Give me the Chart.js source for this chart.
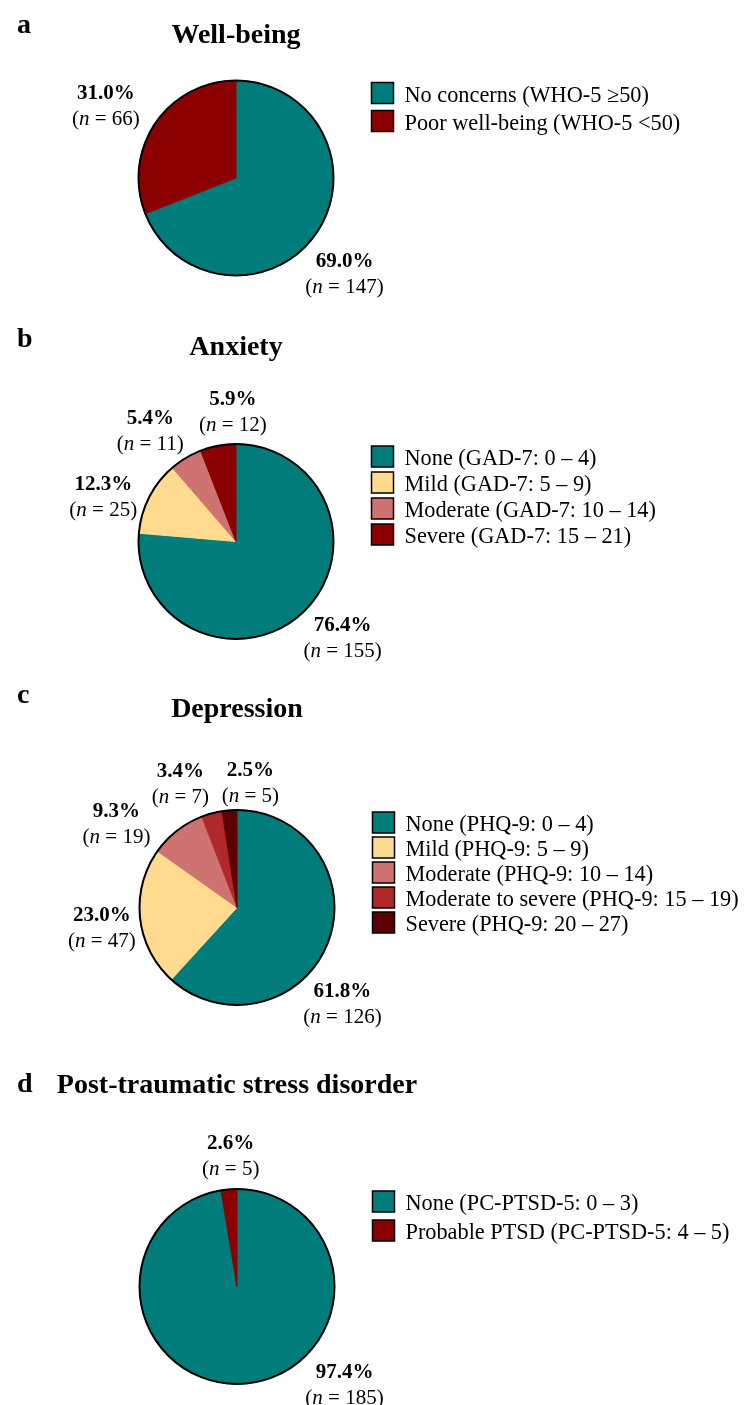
<!DOCTYPE html>
<html lang="en">
<head>
  <meta charset="UTF-8">
  <title>Well-being, anxiety, depression and PTSD screening</title>
  <script src="https://cdn.jsdelivr.net/npm/chart.js"></script>
  <style>
    body { margin: 0; background: #fff; }
    .page { position: relative; width: 745px; height: 1405px; }
    .panel { position: absolute; left: 0; width: 745px; }
  </style>
</head>
<body>
  <div class="page">
    <div class="panel" style="top:0;height:320px"><canvas id="chartA"></canvas></div>
    <div class="panel" style="top:320px;height:360px"><canvas id="chartB"></canvas></div>
    <div class="panel" style="top:680px;height:370px"><canvas id="chartC"></canvas></div>
    <div class="panel" style="top:1050px;height:355px"><canvas id="chartD"></canvas></div>
  </div>

  <script>
    // a - Well-being (WHO-5)
    const wellbeingLabels = ['No concerns (WHO-5 \u226550)', 'Poor well-being (WHO-5 <50)'];
    const wellbeingCounts = [147, 66];
    const wellbeingPercents = ['69.0', '31.0'];

    // b - Anxiety (GAD-7)
    const anxietyLabels = ['None (GAD-7: 0 \u2013 4)', 'Mild (GAD-7: 5 \u2013 9)', 'Moderate (GAD-7: 10 \u2013 14)', 'Severe (GAD-7: 15 \u2013 21)'];
    const anxietyCounts = [155, 25, 11, 12];
    const anxietyPercents = ['76.4', '12.3', '5.4', '5.9'];

    // c - Depression (PHQ-9)
    const depressionLabels = ['None (PHQ-9: 0 \u2013 4)', 'Mild (PHQ-9: 5 \u2013 9)', 'Moderate (PHQ-9: 10 \u2013 14)', 'Moderate to severe (PHQ-9: 15 \u2013 19)', 'Severe (PHQ-9: 20 \u2013 27)'];
    const depressionCounts = [126, 47, 19, 7, 5];
    const depressionPercents = ['61.8', '23.0', '9.3', '3.4', '2.5'];

    // d - PTSD (PC-PTSD-5)
    const ptsdLabels = ['None (PC-PTSD-5: 0 \u2013 3)', 'Probable PTSD (PC-PTSD-5: 4 \u2013 5)'];
    const ptsdCounts = [185, 5];
    const ptsdPercents = ['97.4', '2.6'];

    const TEAL = '#007d7a';
    const DARK_RED = '#8b0000';
    const YELLOW = '#ffda8f';
    const PINK = '#cf7272';
    const BRICK = '#b0282a';
    const MAROON = '#5c0000';

    const SERIF = '"Liberation Serif", "Times New Roman", serif';
    const R = 98;   // pie radius in px

    const panels = [
      { id: 'chartA', letter: 'a', title: 'Well-being', labels: wellbeingLabels, counts: wellbeingCounts,
        percents: wellbeingPercents, colors: [TEAL, DARK_RED],
        height: 320, cx: 236, cy: 178, letterY: 33, titleY: 43, legendStep: 28,
        labelNudge: [7, -5], labelDist: [1.48, 1.53] },
      { id: 'chartB', letter: 'b', title: 'Anxiety', labels: anxietyLabels, counts: anxietyCounts,
        percents: anxietyPercents, colors: [TEAL, YELLOW, PINK, DARK_RED],
        height: 360, cx: 236, cy: 221.5, letterY: 27, titleY: 35, legendStep: 26,
        labelNudge: [-5.5, -8, -6.6, 9.3], labelDist: [1.47, 1.44, 1.44, 1.34] },
      { id: 'chartC', letter: 'c', title: 'Depression', labels: depressionLabels, counts: depressionCounts,
        percents: depressionPercents, colors: [TEAL, YELLOW, PINK, BRICK, MAROON],
        height: 370, cx: 237, cy: 227.5, letterY: 23, titleY: 37, legendStep: 25,
        labelNudge: [21, -2, -17, -9.5, 10.5], labelDist: [1.46, 1.40, 1.51, 1.40, 1.29] },
      { id: 'chartD', letter: 'd', title: 'Post-traumatic stress disorder', labels: ptsdLabels, counts: ptsdCounts,
        percents: ptsdPercents, colors: [TEAL, DARK_RED],
        height: 355, cx: 237, cy: 236.5, letterY: 42, titleY: 43, legendStep: 29,
        labelNudge: [-43, 2], labelDist: [1.49, 1.35] }
    ];

    // outline, titles, outside labels and legend
    const panelDecor = {
      id: 'panelDecor',
      afterDatasetsDraw(chart, args, opts) {
        const ctx = chart.ctx;
        const meta = chart.getDatasetMeta(0);
        const { x, y, outerRadius } = meta.data[0].getProps(['x', 'y', 'outerRadius'], true);

        ctx.save();
        ctx.beginPath();
        ctx.arc(x, y, outerRadius, 0, Math.PI * 2);
        ctx.lineWidth = 2;
        ctx.strokeStyle = '#000';
        ctx.stroke();

        ctx.fillStyle = '#000';
        ctx.textBaseline = 'alphabetic';
        ctx.textAlign = 'left';
        ctx.font = 'bold 28px ' + SERIF;
        ctx.fillText(opts.letter, 17, opts.letterY);
        ctx.textAlign = 'center';
        ctx.font = 'bold 28px ' + SERIF;
        ctx.fillText(opts.title, x, opts.titleY);

        // slice labels
        meta.data.forEach((arc, i) => {
          const { startAngle, endAngle } = arc.getProps(['startAngle', 'endAngle'], true);
          const ang = (startAngle + endAngle) / 2 + opts.labelNudge[i] * Math.PI / 180;
          const d = outerRadius * opts.labelDist[i];
          const lx = x + Math.cos(ang) * d;
          const ly = y + Math.sin(ang) * d;

          ctx.textAlign = 'center';
          ctx.font = 'bold 21px ' + SERIF;
          ctx.fillText(opts.percents[i] + '%', lx, ly - 6);

          const parts = [
            { t: '(', f: '21px ' + SERIF },
            { t: 'n', f: 'italic 21px ' + SERIF },
            { t: ' = ' + opts.counts[i] + ')', f: '21px ' + SERIF }
          ];
          let total = 0;
          parts.forEach(p => { ctx.font = p.f; p.w = ctx.measureText(p.t).width; total += p.w; });
          let px = lx - total / 2;
          ctx.textAlign = 'left';
          parts.forEach(p => { ctx.font = p.f; ctx.fillText(p.t, px, ly + 20); px += p.w; });
        });

        // legend
        const bx = x + outerRadius + 38;
        const top = y - outerRadius + 2;
        const colors = chart.data.datasets[0].backgroundColor;
        chart.data.labels.forEach((lab, i) => {
          const by = top + i * opts.legendStep;
          ctx.fillStyle = colors[i];
          ctx.fillRect(bx, by, 22, 21);
          ctx.lineWidth = 1.5;
          ctx.strokeStyle = '#000';
          ctx.strokeRect(bx, by, 22, 21);
          ctx.fillStyle = '#000';
          ctx.textAlign = 'left';
          ctx.font = '22.3px ' + SERIF;
          ctx.fillText(lab, bx + 33, by + 19);
        });
        ctx.restore();
      }
    };

    function buildPanel(p) {
      const ctx = document.getElementById(p.id).getContext('2d');
      new Chart(ctx, {
        type: 'pie',
        data: {
          labels: p.labels,
          datasets: [{
            data: p.counts,
            backgroundColor: p.colors,
            borderColor: p.colors,
            borderWidth: 1
          }]
        },
        options: {
          responsive: true,
          maintainAspectRatio: false,
          animation: false,
          layout: {
            padding: {
              left: p.cx - R,
              right: 745 - (p.cx + R),
              top: p.cy - R,
              bottom: p.height - (p.cy + R)
            }
          },
          plugins: {
            legend: { display: false },
            tooltip: { enabled: false },
            panelDecor: p
          }
        },
        plugins: [panelDecor]
      });
    }

    panels.forEach(buildPanel);
  </script>
</body>
</html>
